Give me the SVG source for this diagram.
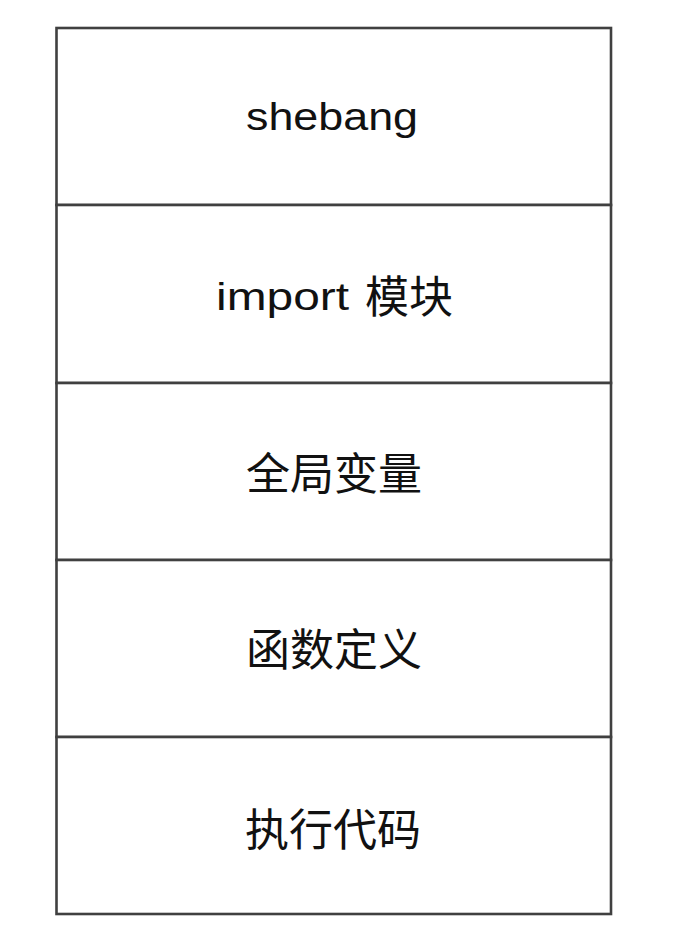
<svg xmlns="http://www.w3.org/2000/svg" width="674" height="928" viewBox="0 0 674 928">
<style>
.box{fill:#ffffff;stroke:#404040;stroke-width:2.6}
.lat{font-family:"Liberation Sans","Noto Sans CJK SC",sans-serif;font-size:38px;fill:#111111}
.cjk{font-family:"Noto Sans CJK SC",sans-serif;font-size:44px;fill:#111111;text-anchor:middle}
</style>
<rect width="674" height="928" fill="#ffffff"/>
<g id="node-shebang">
<rect class="box" x="56.5" y="28" width="554.5" height="177"/>
<text class="lat" x="246" y="130" textLength="172" lengthAdjust="spacingAndGlyphs">shebang</text>
</g>
<g id="node-import">
<rect class="box" x="56.5" y="205" width="554.5" height="178"/>
<text class="lat" x="216" y="310" textLength="133" lengthAdjust="spacingAndGlyphs">import</text>
<text class="cjk" x="409" y="313">模块</text>
</g>
<g id="node-globals">
<rect class="box" x="56.5" y="383" width="554.5" height="177"/>
<text class="cjk" x="334" y="490">全局变量</text>
</g>
<g id="node-functions">
<rect class="box" x="56.5" y="560" width="554.5" height="177"/>
<text class="cjk" x="334" y="666">函数定义</text>
</g>
<g id="node-main">
<rect class="box" x="56.5" y="737" width="554.5" height="177"/>
<text class="cjk" x="333" y="846">执行代码</text>
</g>
<g id="connectors"></g>
</svg>
